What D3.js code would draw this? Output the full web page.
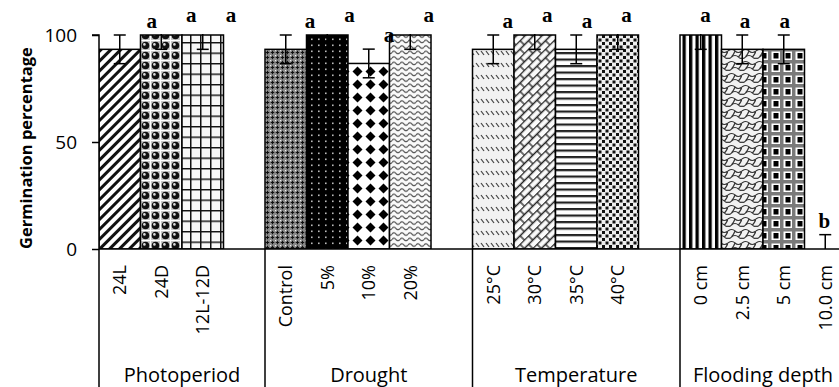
<!DOCTYPE html>
<html>
<head>
<meta charset="utf-8">
<script src="https://cdn.jsdelivr.net/npm/d3@7/dist/d3.min.js"></script>
<style>
  body { margin: 0; background: #fff; }
  svg { display: block; font-family: "Open Sans", sans-serif; }
</style>
</head>
<body>
<div id="chart"></div>
<script>
// treatment groups and their categories
const groupNames = ["Photoperiod", "Drought", "Temperature", "Flooding depth"];
const categories = ["24L", "24D", "12L-12D",
  "Control", "5%", "10%", "20%",
  "25°C", "30°C", "35°C", "40°C",
  "0 cm", "2.5 cm", "5 cm", "10.0 cm"];
const groupOf = [0, 0, 0, 1, 1, 1, 1, 2, 2, 2, 2, 3, 3, 3, 3];
const germination = [93.3, 100, 100, 93.3, 100, 86.7, 100, 93.3, 100, 93.3, 100, 100, 93.3, 93.3, 0];
const stdError = [6.7, 6.7, 6.7, 6.7, 6.7, 6.7, 6.7, 6.7, 6.7, 6.7, 6.7, 6.7, 6.7, 6.7, 6.7];
const letters = ["a", "a", "a", "a", "a", "a", "a", "a", "a", "a", "a", "a", "a", "a", "b"];
const yTicks = [0, 50, 100];

const patternIds = ["wdiag", "sphere", "lgrid", "trellis", "bdots", "diamond", "wave",
  "dashdiag", "brick", "hlines", "confetti", "vstripe", "shingle", "plaid", "vstripe"];

function drawChart() {
  const w = 839, h = 387;
  const plot = { left: 99, top: 35, bottom: 249, right: 846 };

  const data = categories.map((c, i) => ({
    key: "c" + i, name: c, group: groupOf[i],
    value: germination[i], err: stdError[i], letter: letters[i], pat: patternIds[i]
  }));

  // one blank slot closes every group except the last (as in the Excel sheet)
  const slots = [];
  groupNames.forEach((g, gi) => {
    data.filter(d => d.group === gi).forEach(d => slots.push(d.key));
    if (gi < groupNames.length - 1) slots.push("blank" + gi);
  });

  const x = d3.scaleBand().domain(slots).range([plot.left, plot.right]).padding(0);
  const y = d3.scaleLinear().domain([0, 100]).range([plot.bottom, plot.top]);
  // letters were placed slightly shifted with respect to the bars
  const xLetter = x.copy().range([132, 844]);

  const svg = d3.select("#chart").append("svg")
    .attr("width", w).attr("height", h);

  // ---- fill patterns ----
  const defs = svg.append("defs");
  function pat(id, pw, ph, bg, draw, transform) {
    const p = defs.append("pattern").attr("id", id)
      .attr("patternUnits", "userSpaceOnUse")
      .attr("width", pw).attr("height", ph);
    if (transform) p.attr("patternTransform", transform);
    p.append("rect").attr("width", pw).attr("height", ph).attr("fill", bg);
    draw(p);
  }
  pat("wdiag", 7, 7, "#fff", p => p.append("rect").attr("width", 3).attr("height", 7).attr("fill", "#111"), "rotate(45)");
  pat("sphere", 10, 10, "#c8c8c8", p => {
    p.append("path").attr("d", "M0,0.5H10M0.5,0V10").attr("stroke", "#fff").attr("stroke-width", 1);
    p.append("circle").attr("cx", 5.5).attr("cy", 5.5).attr("r", 3.8).attr("fill", "#111");
    p.append("circle").attr("cx", 4.4).attr("cy", 4.4).attr("r", 1.3).attr("fill", "#ddd");
  });
  pat("lgrid", 10, 10.5, "#f8f8f8", p => p.append("path").attr("d", "M0,0.75H10M0.75,0V10.5")
    .attr("stroke", "#111").attr("stroke-width", 1.5));
  pat("trellis", 5, 5, "#8a8a8a", p => {
    p.append("path").attr("d", "M2.5,0.8V4.2M0.8,2.5H4.2").attr("stroke", "#111").attr("stroke-width", 1.2);
    p.append("rect").attr("width", 1.2).attr("height", 1.2).attr("fill", "#eee");
  });
  pat("bdots", 7, 6, "#000", p => p.append("rect").attr("x", 3).attr("y", 2.5)
    .attr("width", 1.6).attr("height", 1.6).attr("fill", "#bbb"));
  pat("diamond", 13, 13, "#fff", p => p.append("path").attr("d", "M6.5,1.5L11.5,6.5L6.5,11.5L1.5,6.5Z").attr("fill", "#000"));
  pat("wave", 8, 5.5, "#fafafa", p => p.append("path").attr("d", "M0,3Q2,0.5 4,3T8,3")
    .attr("fill", "none").attr("stroke", "#444").attr("stroke-width", 1.1));
  pat("dashdiag", 5, 12, "#f2f2f2", p => p.append("path").attr("d", "M1,3L4,7")
    .attr("stroke", "#444").attr("stroke-width", 1.2));
  pat("brick", 12, 12, "#fafafa", p => p.append("path").attr("d", "M0,0.5H12M0,6.5H12M3,0.5V6.5M9,6.5V12.5")
    .attr("fill", "none").attr("stroke", "#222").attr("stroke-width", 1.3), "rotate(-45)");
  pat("hlines", 4, 6.5, "#fff", p => p.append("rect").attr("width", 4).attr("height", 2.2).attr("fill", "#222"));
  pat("confetti", 7, 7, "#eee", p => {
    p.append("rect").attr("width", 3).attr("height", 3).attr("fill", "#111");
    p.append("rect").attr("x", 3.5).attr("y", 3.5).attr("width", 3).attr("height", 3).attr("fill", "#111");
  });
  pat("vstripe", 6.5, 4, "#fff", p => p.append("rect").attr("width", 3.3).attr("height", 4).attr("fill", "#000"));
  pat("shingle", 14, 12, "#f2f2f2", p => p.append("path")
    .attr("d", "M0,3Q4,0 7,3T14,3M3.5,9Q7,6 10.5,9M10.5,9Q12,11 14,10M3.5,9Q2,11 0,10M7,3Q6,6 3.5,9M14,3Q13,6 10.5,9")
    .attr("fill", "none").attr("stroke", "#333").attr("stroke-width", 1.2));
  pat("plaid", 12, 12, "#fff", p => {
    p.append("rect").attr("width", 12).attr("height", 3.5).attr("fill", "#7a7a7a");
    p.append("rect").attr("width", 3.5).attr("height", 12).attr("fill", "#7a7a7a");
    p.append("rect").attr("x", 5.5).attr("y", 5).attr("width", 5).attr("height", 5.5).attr("fill", "#000");
  });

  defs.append("clipPath").attr("id", "plotClip").append("rect")
    .attr("x", plot.left).attr("y", plot.top - 1)
    .attr("width", plot.right - plot.left).attr("height", plot.bottom - plot.top + 1);

  const g = svg.append("g").attr("clip-path", "url(#plotClip)");

  // bars
  g.selectAll("rect.bar").data(data.filter(d => d.value > 0)).enter().append("rect")
    .attr("class", "bar")
    .attr("x", d => x(d.key))
    .attr("y", d => y(d.value))
    .attr("width", x.bandwidth())
    .attr("height", d => y(0) - y(d.value))
    .attr("fill", d => `url(#${d.pat})`)
    .attr("stroke", "#000")
    .attr("stroke-width", 1.5);

  // error bars
  const eb = g.selectAll("g.err").data(data).enter().append("g").attr("class", "err")
    .attr("stroke", "#000").attr("stroke-width", 1.5);
  const cx = d => x(d.key) + x.bandwidth() / 2;
  eb.append("line").attr("x1", cx).attr("x2", cx)
    .attr("y1", d => y(d.value - d.err)).attr("y2", d => y(d.value + d.err));
  eb.append("line").attr("x1", d => cx(d) - 6).attr("x2", d => cx(d) + 6)
    .attr("y1", d => y(d.value - d.err)).attr("y2", d => y(d.value - d.err));
  eb.append("line").attr("x1", d => cx(d) - 6).attr("x2", d => cx(d) + 6)
    .attr("y1", d => y(d.value + d.err)).attr("y2", d => y(d.value + d.err));

  // significance letters
  svg.selectAll("text.letter").data(data).enter().append("text")
    .attr("class", "letter")
    .attr("x", d => xLetter(d.key) + xLetter.bandwidth() / 2)
    .attr("y", d => Math.max(y(d.value) - 21, plot.top - 13))
    .attr("text-anchor", "middle")
    .style("font-family", "'Liberation Serif', serif")
    .style("font-weight", "bold")
    .style("font-size", "21px")
    .text(d => d.letter);

  // y axis
  const yAxis = d3.axisLeft(y).tickValues(yTicks).tickSize(7).tickPadding(15);
  const ya = svg.append("g").attr("transform", `translate(${plot.left},0)`).call(yAxis);
  ya.select(".domain").attr("stroke-width", 1.5).attr("d", `M-7,${plot.top}H0V${h}`);
  ya.selectAll(".tick line").attr("stroke-width", 1.5);
  ya.selectAll(".tick text").style("font-family", "'Open Sans', sans-serif").style("font-size", "19px").attr("fill", "#000");

  // x axis line
  svg.append("line").attr("x1", plot.left).attr("x2", plot.right)
    .attr("y1", plot.bottom).attr("y2", plot.bottom)
    .attr("stroke", "#000").attr("stroke-width", 1.5);

  // category labels
  svg.selectAll("text.cat").data(data).enter().append("text")
    .attr("class", "cat")
    .attr("transform", d => `translate(${cx(d)},265) rotate(-90)`)
    .attr("text-anchor", "end")
    .attr("dy", "0.35em")
    .style("font-size", "18px")
    .text(d => d.name);

  // group separators and labels
  groupNames.forEach((name, gi) => {
    const keys = slots.filter(k => (k.startsWith("c") && data.find(d => d.key === k).group === gi) || k === "blank" + gi);
    const x0 = x(keys[0]);
    const x1 = x(keys[keys.length - 1]) + x.bandwidth();
    if (gi > 0) {
      svg.append("line").attr("x1", x0).attr("x2", x0).attr("y1", plot.bottom).attr("y2", h)
        .attr("stroke", "#000").attr("stroke-width", 1.5);
    }
    svg.append("text").attr("x", (x0 + x1) / 2).attr("y", 382)
      .attr("text-anchor", "middle").style("font-size", "20px").text(name);
  });

  // y axis title
  svg.append("text")
    .attr("transform", `translate(32,${(plot.top + plot.bottom) / 2 + 6}) rotate(-90)`)
    .attr("text-anchor", "middle")
    .style("font-weight", "bold")
    .style("font-size", "16.5px")
    .text("Germination percentage");
}

window.addEventListener("load", drawChart);
</script>
</body>
</html>
